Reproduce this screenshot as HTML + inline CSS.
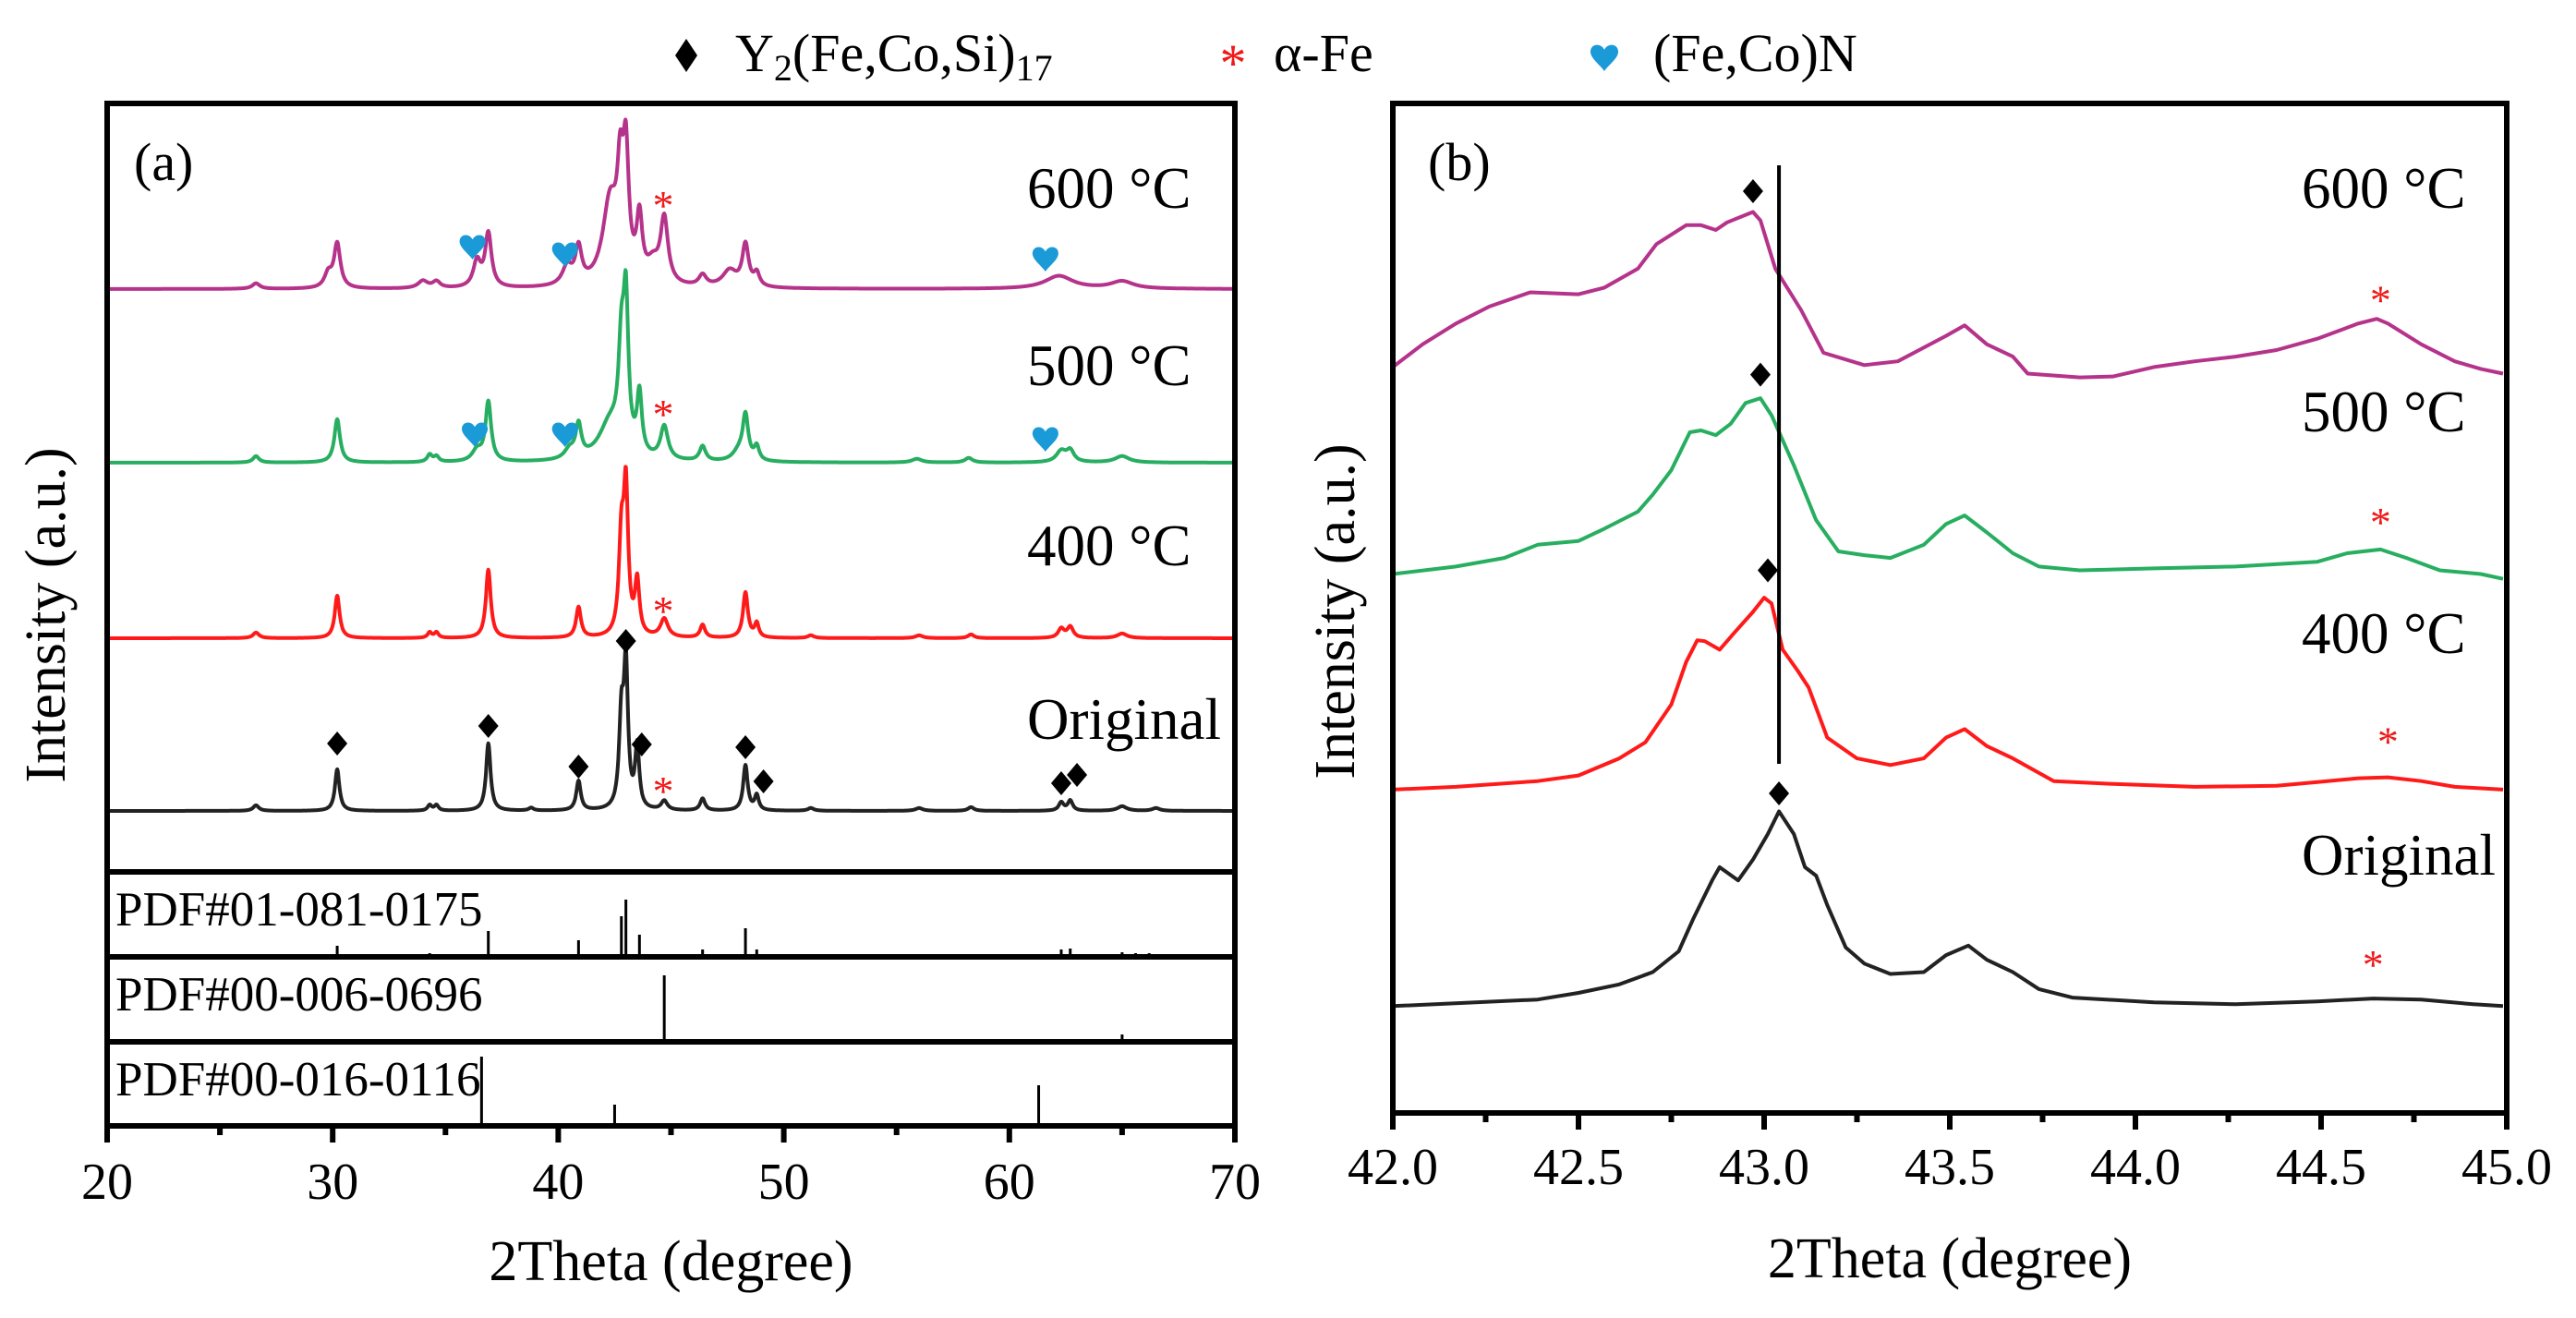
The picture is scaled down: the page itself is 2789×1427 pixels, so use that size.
<!DOCTYPE html>
<html><head><meta charset="utf-8"><style>
html,body{margin:0;padding:0;background:#fff;}
svg, svg text{font-family:"Liberation Serif","DejaVu Serif","Times New Roman",serif;}
</style></head><body>
<svg id="fig" width="2789" height="1422" viewBox="0 0 2789 1422" xmlns="http://www.w3.org/2000/svg" font-family="Liberation Serif, DejaVu Serif, serif">
<g id="legend">
  <path d="M743,42 L755,60 L743,78 L731,60 Z" fill="#000"/>
  <text x="796" y="77" font-size="58" font-family="Liberation Serif, serif">Y<tspan font-size="40" dy="10">2</tspan><tspan dy="-10">(Fe,Co,Si)</tspan><tspan font-size="40" dy="10">17</tspan></text>
  <text x="1335" y="88" font-size="58" font-family="Liberation Serif, serif" fill="#f01818" text-anchor="middle">*</text>
  <text x="1379" y="77" font-size="58" font-family="Liberation Serif, serif">α-Fe</text>
  <path id="legHeart" fill="#1a9ad6" d=""/>
  <text x="1790" y="77" font-size="58" font-family="Liberation Serif, serif">(Fe,Co)N</text>
</g>
<g id="pa"></g>
<g id="pb"></g>
</svg>
<script>
// ---------- Panel (a) data ----------
const aXTicks = [20,30,40,50,60,70];
const aSeriesNames = ["600 °C","500 °C","400 °C","Original"];
const aSeriesColors = ["#b5338a","#27ae60","#ff1a1a","#222222"];
const aOffsets = [565,377,187,0];
const origPos = [26.6,30.2,34.3,34.6,36.9,38.8,40.9,42.8,43.0,43.5,44.7,46.4,48.3,48.8,51.2,56.0,58.3,62.3,62.7,65.0,66.5];
const origH   = [6,45,6,6,73,3,32,95,150,67,10,13,49,16,3,3,4,9,11,5,3];
const origW   = [0.15,0.12,0.11,0.11,0.12,0.13,0.12,0.12,0.11,0.11,0.16,0.13,0.12,0.11,0.16,0.2,0.16,0.13,0.13,0.25,0.2];
const p400Pos = [26.6,30.2,34.3,34.6,36.9,40.9,42.8,43.0,43.5,44.7,46.4,48.3,48.8,51.2,56.0,58.3,62.3,62.7,65.0];
const p400H   = [6,46,6,6,74,33,100,152,58,20,14,49,15,3,3,4,10,12,5];
const p400W   = [0.16,0.13,0.11,0.11,0.13,0.13,0.13,0.12,0.12,0.2,0.13,0.13,0.11,0.16,0.2,0.16,0.16,0.16,0.26];
const p500Pos = [26.6,30.2,34.3,34.6,36.4,36.9,40.5,40.9,42.3,42.8,43.0,43.6,44.7,46.4,48.0,48.3,48.8,55.9,58.2,62.3,62.7,65.0];
const p500H   = [7,47,8,6,12,64,10,35,40,100,150,65,36,16,10,48,15,4,5,12,12,7];
const p500W   = [0.16,0.15,0.13,0.13,0.26,0.15,0.26,0.15,0.6,0.15,0.13,0.13,0.2,0.16,0.32,0.15,0.13,0.26,0.2,0.26,0.2,0.38];
const p600Pos = [26.6,29.8,30.2,34.0,34.6,36.4,36.9,40.4,40.9,42.3,42.75,43.0,43.6,44.2,44.7,46.4,47.6,48.3,48.8,62.2,65.0];
const p600H   = [6,15,48,8,7,28,58,20,38,90,95,125,66,20,70,12,18,45,14,14,8];
const p600W   = [0.2,0.2,0.17,0.26,0.2,0.2,0.17,0.26,0.17,0.4,0.16,0.15,0.15,0.32,0.2,0.2,0.38,0.17,0.15,0.75,0.6];
const aPeaks = [[p600Pos,p600H,p600W],[p500Pos,p500H,p500W],[p400Pos,p400H,p400W],[origPos,origH,origW]];
const pdfNames = ["PDF#01-081-0175","PDF#00-006-0696","PDF#00-016-0116"];
const pdf1Pos = [26.6,30.2,34.3,36.9,40.9,42.8,43.0,43.6,46.4,48.3,48.8,51.2,56.0,58.3,62.3,62.7,65.0,65.6,66.2];
const pdf1H   = [3,12,4,28,18,44,62,24,8,31,8,3,3,3,8,9,5,4,4];
const pdf2Pos = [44.7,65.0];
const pdf2H   = [72,8];
const pdf3Pos = [36.6,42.5,61.3];
const pdf3H   = [75,23,44];
const pdfPos = [pdf1Pos,pdf2Pos,pdf3Pos];
const pdfH = [pdf1H,pdf2H,pdf3H];
const aDiamondX = [30.2,36.9,40.9,43.0,43.7,48.3,49.1,62.3,63.0];
const aDiamondY = [73,92,48,184,72,69,32,30,39];
const aStarX = [44.65,44.65,44.65,44.65];
const aStarY = [97,59,36,28];
const aHeartX = [36.2,40.3,61.6,36.3,40.3,61.6];
const aHeartY = [46,38,33,31,31,26];
const aHeartSeries = [0,0,0,1,1,1];

// ---------- Panel (b) data ----------
const bXTicks = [42.0,42.5,43.0,43.5,44.0,44.5,45.0];
const b600T = [42.00,42.08,42.17,42.26,42.37,42.50,42.57,42.66,42.71,42.79,42.83,42.87,42.90,42.97,42.99,43.03,43.10,43.16,43.27,43.36,43.49,43.54,43.60,43.67,43.71,43.85,43.94,44.05,44.16,44.27,44.38,44.49,44.60,44.65,44.68,44.77,44.86,44.93,44.99];
const b600I = [789,813,835,853,868,866,873,893,919,939,939,934,942,953,944,893,849,804,791,795,822,833,813,800,782,778,779,789,795,800,807,819,835,840,835,813,795,787,782];
const b500T = [42.00,42.17,42.30,42.39,42.50,42.57,42.66,42.70,42.75,42.80,42.83,42.87,42.91,42.95,42.99,43.02,43.08,43.14,43.20,43.27,43.34,43.43,43.49,43.54,43.60,43.67,43.74,43.85,44.05,44.27,44.49,44.57,44.66,44.73,44.82,44.93,44.99];
const b500I = [570,578,587,601,605,618,636,654,680,720,722,717,729,751,756,738,685,627,594,590,587,601,623,632,614,592,578,574,576,578,583,592,596,587,574,570,565];
const b400T = [42.00,42.17,42.39,42.50,42.61,42.68,42.75,42.79,42.82,42.84,42.88,42.92,42.97,43.00,43.02,43.05,43.09,43.12,43.17,43.25,43.34,43.43,43.49,43.54,43.60,43.67,43.78,43.94,44.16,44.38,44.49,44.60,44.68,44.77,44.86,44.99];
const b400I = [342,345,351,357,375,392,432,477,500,499,490,508,530,545,539,490,468,450,397,375,368,375,397,406,388,375,351,348,345,346,350,354,355,351,345,342];
const bOrigT = [42.00,42.39,42.50,42.61,42.70,42.77,42.81,42.86,42.88,42.93,42.97,43.01,43.04,43.08,43.11,43.14,43.17,43.22,43.27,43.34,43.43,43.49,43.55,43.60,43.67,43.74,43.83,44.05,44.27,44.49,44.64,44.77,44.91,44.99];
const bOrigI = [113,120,127,136,149,171,206,246,260,246,268,295,319,295,260,251,220,175,158,147,149,167,177,162,149,131,122,117,115,118,121,120,115,113];
const bSeriesT = [b600T,b500T,b400T,bOrigT];
const bSeriesI = [b600I,b500I,b400I,bOrigI];
const bDiamondX = [42.97,42.99,43.01,43.04];
const bDiamondY = [975,781,574,338];
const bStarX = [44.66,44.66,44.68,44.64];
const bStarY = [866,631,399,163];
const bRefLine = 43.04;

// ---------- helpers ----------
const NS="http://www.w3.org/2000/svg";
const FONT="Liberation Serif, DejaVu Serif, serif";
function mk(parent,tag,attrs,txt){const e=document.createElementNS(NS,tag);for(const k in attrs)e.setAttribute(k,attrs[k]);if(tag==='text')e.setAttribute('font-family',FONT);if(txt!==undefined)e.textContent=txt;parent.appendChild(e);return e;}
function heartPath(cx,cy,s){
  return `M${cx},${cy+s} C${cx-s*0.3},${cy+s*0.55} ${cx-s*1.05},${cy+s*0.05} ${cx-s*1.0},${cy-s*0.45} C${cx-s*0.95},${cy-s*1.0} ${cx-s*0.25},${cy-s*1.05} ${cx},${cy-s*0.55} C${cx+s*0.25},${cy-s*1.05} ${cx+s*0.95},${cy-s*1.0} ${cx+s*1.0},${cy-s*0.45} C${cx+s*1.05},${cy+s*0.05} ${cx+s*0.3},${cy+s*0.55} ${cx},${cy+s} Z`;
}
function diamondPath(cx,cy,w,h){return `M${cx},${cy-h} L${cx+w},${cy} L${cx},${cy+h} L${cx-w},${cy} Z`;}
document.getElementById('legHeart').setAttribute('d',heartPath(1737,62,15));

// ---------- Panel (a) ----------
const pa=document.getElementById('pa');
const aL=116,aR=1337,aT=112,aMainB=944,aAxisB=1219;
const ax = v => aL + (v-20)/(70-20)*(aR-aL);
const aBase = 878;
const ay = v => aBase - v;
const pdfBot=[1036,1128,1219];

aSeriesNames.forEach((nm,si)=>{
  const [P,H,W]=aPeaks[si];
  let d='';
  for(let t=20;t<=70.0001;t+=0.02){
    let s=0;
    for(let k=0;k<P.length;k++){const z=(t-P[k])/W[k];s+=H[k]/(1+z*z);}
    const y=ay(aOffsets[si]+s);
    d+=(d?'L':'M')+ax(t).toFixed(1)+','+y.toFixed(1);
  }
  const p=mk(pa,'path',{d:d,fill:'none',stroke:aSeriesColors[si],'stroke-width':4,'stroke-linejoin':'round'});
  
  
});
const aLabelY=[225,417,612,800];
aSeriesNames.forEach((nm,si)=>{
  const t=mk(pa,'text',{x:1112,y:aLabelY[si],'font-size':63},nm);
  
  
});
aDiamondX.forEach((x,i)=>{
  const m=mk(pa,'path',{d:diamondPath(ax(x),ay(aDiamondY[i]),11,13),fill:'#000'});
  
  
});
aStarX.forEach((x,i)=>{
  const m=mk(pa,'text',{x:ax(x),y:ay(aOffsets[i]+aStarY[i])+22,'font-size':46,fill:'#f01818','text-anchor':'middle'},'*');
  
  
});
aHeartX.forEach((x,i)=>{
  const m=mk(pa,'path',{d:heartPath(ax(x),ay(aOffsets[aHeartSeries[i]]+aHeartY[i]),14),fill:'#1a9ad6'});
  
  
});
pdfNames.forEach((nm,ci)=>{
  pdfPos[ci].forEach((x,k)=>{
    const b=mk(pa,'line',{x1:ax(x),x2:ax(x),y1:pdfBot[ci],y2:pdfBot[ci]-pdfH[ci][k],stroke:'#000','stroke-width':3});
    
    
  });
  const t=mk(pa,'text',{x:125,y:[1002,1094,1186][ci],'font-size':53},nm);
  
  
});
[[aT,aMainB],[944,1036],[1036,1128],[1128,1219]].forEach((r,i)=>{
  const f=mk(pa,'rect',{x:aL,y:r[0],width:aR-aL,height:r[1]-r[0],fill:'none',stroke:'#000','stroke-width':6});
  
  
});
for(let v=20;v<=70;v+=5){
  const major=(v%10===0);
  const tk=mk(pa,'line',{x1:ax(v),x2:ax(v),y1:aAxisB,y2:aAxisB+(major?18:10),stroke:'#000','stroke-width':6});
  
  
}
aXTicks.forEach(v=>{
  const t=mk(pa,'text',{x:ax(v),y:1298,'font-size':56,'text-anchor':'middle'},String(v));
  
  
});
let t1=mk(pa,'text',{x:(aL+aR)/2,y:1386,'font-size':62,'text-anchor':'middle'},'2Theta (degree)');


let t2=mk(pa,'text',{x:0,y:0,'font-size':62,'text-anchor':'middle',transform:'translate(70,666) rotate(-90)'},'Intensity (a.u.)');


let t3=mk(pa,'text',{x:145,y:195,'font-size':58},'(a)');



// ---------- Panel (b) ----------
const pb=document.getElementById('pb');
const bL=1508,bR=2714,bT=112,bB=1205;
const bx = v => bL + (v-42)/(45-42)*(bR-bL);
const by = v => bB - v*1.0236;
bSeriesT.forEach((T,si)=>{
  const I=bSeriesI[si];
  let d='';
  T.forEach((t,k)=>{d+=(k?'L':'M')+bx(t).toFixed(1)+','+by(I[k]).toFixed(1);});
  const p=mk(pb,'path',{d:d,fill:'none',stroke:aSeriesColors[si],'stroke-width':4,'stroke-linejoin':'round'});
  
  
});
const rl=mk(pb,'line',{x1:bx(bRefLine),x2:bx(bRefLine),y1:179,y2:827,stroke:'#000','stroke-width':4});


bDiamondX.forEach((x,i)=>{
  const m=mk(pb,'path',{d:diamondPath(bx(x),by(bDiamondY[i]),11,13),fill:'#000'});
  
  
});
bStarX.forEach((x,i)=>{
  const m=mk(pb,'text',{x:bx(x),y:by(bStarY[i])+22,'font-size':46,fill:'#f01818','text-anchor':'middle'},'*');
  
  
});
const bLabelY=[225,467,707,947];
aSeriesNames.forEach((nm,si)=>{
  const t=mk(pb,'text',{x:2492,y:bLabelY[si],'font-size':63},nm);
  
  
});
const fb=mk(pb,'rect',{x:bL,y:bT,width:bR-bL,height:bB-bT,fill:'none',stroke:'#000','stroke-width':6});


for(let k=0;k<=12;k++){
  const v=42+k*0.25, major=(k%2===0);
  const tk=mk(pb,'line',{x1:bx(v),x2:bx(v),y1:bB,y2:bB+(major?18:10),stroke:'#000','stroke-width':6});
  
  
}
bXTicks.forEach(v=>{
  const t=mk(pb,'text',{x:bx(v),y:1282,'font-size':56,'text-anchor':'middle'},v.toFixed(1));
  
  
});
let t4=mk(pb,'text',{x:(bL+bR)/2,y:1383,'font-size':62,'text-anchor':'middle'},'2Theta (degree)');


let t5=mk(pb,'text',{x:0,y:0,'font-size':62,'text-anchor':'middle',transform:'translate(1466,662) rotate(-90)'},'Intensity (a.u.)');


let t6=mk(pb,'text',{x:1546,y:195,'font-size':58},'(b)');


</script>
</body></html>
